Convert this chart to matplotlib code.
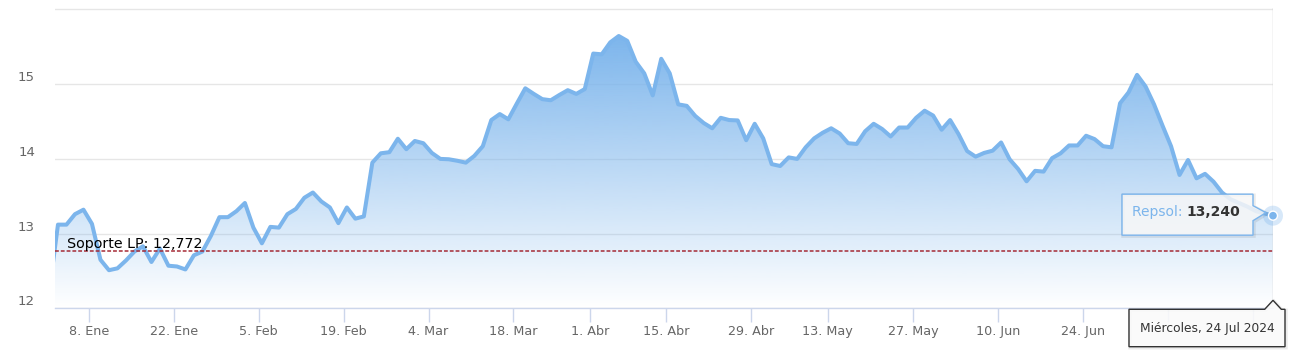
import numpy as np
import pandas as pd
import matplotlib
matplotlib.use('Agg')
import matplotlib.pyplot as plt
from matplotlib.colors import to_rgb
from matplotlib.patches import Polygon, Circle
from matplotlib.transforms import blended_transform_factory

# Trading sessions (Spanish market holidays removed)
holidays = ['2024-01-01', '2024-03-29', '2024-04-01', '2024-05-01']
dates = pd.bdate_range('2023-12-29', '2024-07-24')
dates = dates[~dates.isin(pd.to_datetime(holidays))]

# Closing prices (first value is the clipped 29 Dec session)
prices = [
    12.25,
    # Ene
    13.12, 13.12, 13.26, 13.32, 13.13, 12.65, 12.51, 12.535, 12.64, 12.76, 12.83,
    12.62, 12.80, 12.57, 12.56, 12.52, 12.71, 12.76, 12.97, 13.22, 13.22, 13.30,
    # Feb
    13.41, 13.08, 12.87, 13.09, 13.08, 13.26, 13.33, 13.48, 13.55, 13.43, 13.35,
    13.14, 13.35, 13.20, 13.23, 13.95, 14.075, 14.09, 14.27, 14.13, 14.24,
    # Mar
    14.21, 14.08, 14.00, 13.995, 13.975, 13.95, 14.04, 14.17, 14.52, 14.60,
    14.53, 14.74, 14.945, 14.87, 14.80, 14.785, 14.855, 14.92, 14.87, 14.935,
    # Abr
    15.41, 15.40, 15.56, 15.645, 15.58, 15.30, 15.145, 14.85, 15.34, 15.145, 14.73,
    14.71, 14.575, 14.48, 14.41, 14.55, 14.52, 14.515, 14.25, 14.47, 14.275,
    # May
    13.93, 13.905, 14.02, 14.00, 14.155, 14.275, 14.35, 14.41, 14.34, 14.21, 14.20,
    14.37, 14.47, 14.40, 14.30, 14.42, 14.42, 14.55, 14.645, 14.58, 14.39, 14.52,
    # Jun
    14.33, 14.105, 14.03, 14.08, 14.11, 14.22, 13.995, 13.865, 13.70, 13.84,
    13.83, 14.01, 14.075, 14.18, 14.18, 14.31, 14.265, 14.17, 14.155, 14.745,
    # Jul
    14.89, 15.125, 14.97, 14.73, 14.445, 14.17, 13.785, 13.985, 13.74, 13.80,
    13.695, 13.55, 13.46, 13.41, 13.36, 13.30, 13.27, 13.24,
]
support = 12.772
series_name = 'Repsol'
last_label = 'Miércoles, 24 Jul 2024'

tick_dates = ['2024-01-08', '2024-01-22', '2024-02-05', '2024-02-19', '2024-03-04',
              '2024-03-18', '2024-04-01', '2024-04-15', '2024-04-29', '2024-05-13',
              '2024-05-27', '2024-06-10', '2024-06-24', '2024-07-08', '2024-07-22']
tick_labels = ['8. Ene', '22. Ene', '5. Feb', '19. Feb', '4. Mar', '18. Mar', '1. Abr',
               '15. Abr', '29. Abr', '13. May', '27. May', '10. Jun', '24. Jun',
               '8. Jul', '22. Jul']
y_grid = [12, 13, 14, 15, 16]
y_labels = ['12', '13', '14', '15']

BLUE = '#7cb5ec'
W, H = 1301, 356

x = np.arange(len(prices))
y = np.array(prices)

fig = plt.figure(figsize=(W / 100, H / 100), dpi=100)
ax = fig.add_axes([55 / W, (H - 308.3) / H, 1218 / W, 300.3 / H])

# gradient fill under the line
grad = np.zeros((256, 1, 4))
grad[..., :3] = to_rgb(BLUE)
grad[:, 0, 3] = np.linspace(1.0, 0.0, 256)
im = ax.imshow(grad, extent=(x[0], x[-1], 12, y.max()), origin='upper',
               aspect='auto', interpolation='bilinear', zorder=1)
fill = ax.fill_between(x, y, 12, facecolor='none', edgecolor='none')
im.set_clip_path(fill.get_paths()[0], transform=ax.transData)

ax.plot(x, y, color=BLUE, lw=2.9, solid_joinstyle='round', zorder=3)

# support line
ax.axhline(support, color='#a52a35', lw=1.1, ls=(0, (2.5, 1.3)), zorder=4)
trans = blended_transform_factory(ax.transAxes, ax.transData)
ax.text(0.0098, support, 'Soporte LP: ' + f'{support:.3f}'.replace('.', ','),
        transform=trans, va='bottom', ha='left', fontsize=10.3, color='black', zorder=5)

ax.set_xlim(0.65, x[-1])
ax.set_ylim(12, 16.02)

# grid and axes styling
ax.set_yticks(y_grid)
ax.tick_params(axis='y', left=False, labelleft=False)
ax.grid(axis='y', color='#e6e6e6', lw=1)
ax.set_axisbelow(True)
for yv, lab in zip(y_grid, y_labels):
    ax.text(-20 / 1218, yv, lab, transform=trans, ha='right', va='bottom',
            fontsize=9.6, color='#666666')

mx, my = ax.transData.transform((x[-1], y[-1]))
ab = ax.transData.transform((x[-1], 12))[1]
L2, R2, T2, B2 = mx - 144, mx + 12, ab - 1, ab - 38.4

tick_pos = [dates.searchsorted(pd.Timestamp(d)) - 0.39 for d in tick_dates]
# labels that sit under the date tooltip are hidden by it
shown = [lab if ax.transData.transform((p, 12))[0] < L2 - 20 else ''
         for p, lab in zip(tick_pos, tick_labels)]
ax.set_xticks(tick_pos)
ax.set_xticklabels(shown)
ax.tick_params(axis='x', length=10, width=1, color='#ccd6eb', labelcolor='#666666',
               labelsize=9.2, pad=2)
for s in ['left', 'right', 'top']:
    ax.spines[s].set_visible(False)
ax.spines['bottom'].set_color('#ccd6eb')
ax.spines['bottom'].set_linewidth(1)
ax.axvline(x[-1], color='#cccccc', lw=1, zorder=2)

# overlay in pixel coordinates for tooltips
ov = fig.add_axes([0, 0, 1, 1])
ov.set_xlim(0, W)
ov.set_ylim(0, H)
ov.axis('off')
ov.patch.set_alpha(0)

# value tooltip
L, R, T, B = mx - 151, mx - 20, my + 21.5, my - 19.5
pts = [(L, B), (L, T), (R, T), (R, my + 10), (mx - 7, my + 3), (R, my - 5), (R, B)]
ov.add_patch(Polygon([(px + 1, py - 1) for px, py in pts], closed=True, facecolor='none',
                     edgecolor='black', lw=2.5, alpha=0.08))
ov.add_patch(Polygon(pts, closed=True, facecolor='#f7f7f7', alpha=0.85, edgecolor='none'))
ov.add_patch(Polygon(pts, closed=True, facecolor='none', edgecolor=BLUE, lw=1))
t1 = ov.text(L + 10, my + 3.5, series_name + ': ', color=BLUE, fontsize=10,
             va='center', ha='left')
ov.annotate(f'{y[-1]:.3f}'.replace('.', ','), xy=(1, 0), xycoords=t1, va='bottom',
            ha='left', fontsize=10, fontweight='bold', color='#333333')

# halo and marker
ov.add_patch(Circle((mx, my), 10, color=BLUE, alpha=0.3, lw=0))
ov.add_patch(Circle((mx, my), 4.5, facecolor=BLUE, edgecolor='white', lw=1))

# date tooltip under the axis
pts2 = [(L2, B2), (L2, T2), (mx - 8.3, T2), (mx, ab + 8), (mx + 8.3, T2), (R2, T2), (R2, B2)]
ov.add_patch(Polygon([(px + 1, py - 1) for px, py in pts2], closed=True, facecolor='none',
                     edgecolor='black', lw=2.5, alpha=0.08))
ov.add_patch(Polygon(pts2, closed=True, facecolor='#fafafa', alpha=0.88, edgecolor='none'))
ov.add_patch(Polygon(pts2, closed=True, facecolor='none', edgecolor='#333333', lw=1))
ov.text((L2 + R2) / 2, (T2 + B2) / 2, last_label, ha='center', va='center',
        fontsize=8.8, color='#333333')

fig.savefig('out.png', dpi=100)
